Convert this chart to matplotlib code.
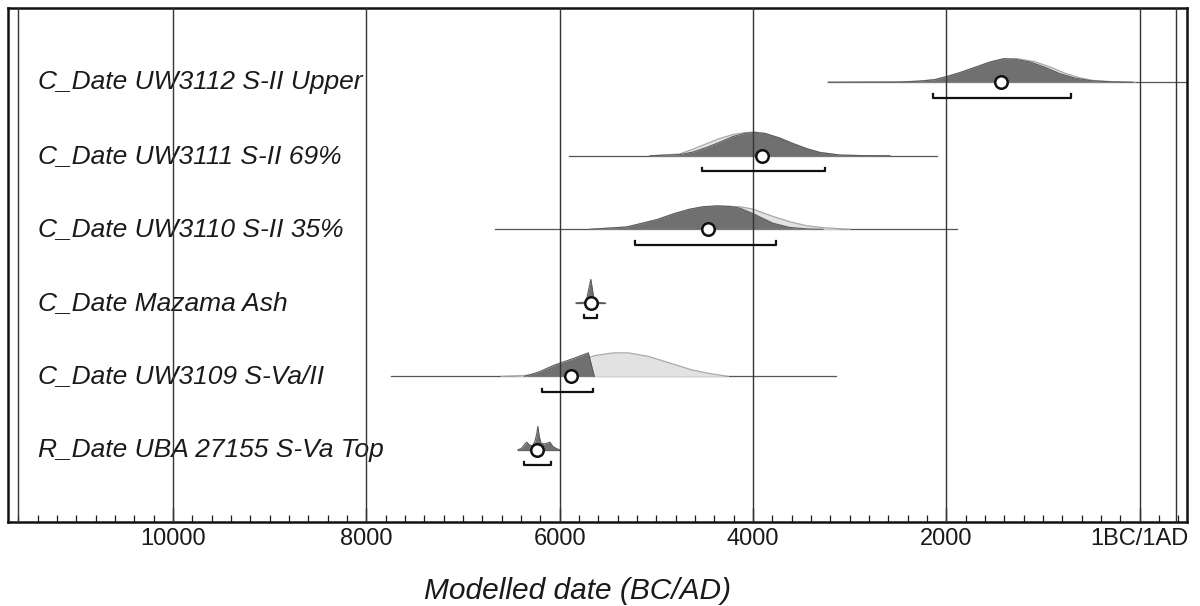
from matplotlib import pyplot as plt
from matplotlib.ticker import FixedLocator, MultipleLocator
import numpy as np

plt.rcParams['font.family'] = ['Liberation Sans', 'DejaVu Sans']

# Sample names, top to bottom
labels = [
    'C_Date UW3112 S-II Upper',
    'C_Date UW3111 S-II 69%',
    'C_Date UW3110 S-II 35%',
    'C_Date Mazama Ash',
    'C_Date UW3109 S-Va/II',
    'R_Date UBA 27155 S-Va Top',
]

# Years are cal BC (positive), probabilities scaled to peak = 1
# Unmodelled (likelihood) distributions
light_years = [
    [3220, 2480, 2270, 2120, 1990, 1860, 1700, 1550, 1400, 1260, 1090, 930, 770, 620, 470, 260, 40],
    [5066, 4756, 4621, 4476, 4342, 4207, 4083, 3980, 3875, 3720, 3586, 3441, 3306, 3099, 2892, 2581],
    [5688, 5304, 4994, 4808, 4652, 4518, 4373, 4238, 4135, 4000, 3793, 3617, 3441, 3275, 2996],
    None,
    [6603, 6365, 6220, 6055, 5879, 5703, 5641, 5496, 5434, 5289, 5082, 4844, 4637, 4461, 4254],
    None,
]
light_probs = [
    [0, 0.01, 0.05, 0.11, 0.24, 0.40, 0.62, 0.84, 0.99, 1.0, 0.88, 0.66, 0.38, 0.19, 0.07, 0.02, 0],
    [0, 0.08, 0.28, 0.52, 0.74, 0.90, 0.99, 1.0, 0.95, 0.75, 0.52, 0.30, 0.14, 0.03, 0.01, 0],
    [0, 0.10, 0.41, 0.66, 0.84, 0.94, 0.98, 0.98, 0.96, 0.86, 0.55, 0.32, 0.15, 0.07, 0],
    None,
    [0, 0.04, 0.10, 0.27, 0.50, 0.78, 0.88, 0.97, 1.0, 1.0, 0.85, 0.55, 0.28, 0.13, 0],
    None,
]

# Modelled (posterior) distributions
dark_years = [
    [3220, 2480, 2270, 2120, 1990, 1860, 1700, 1550, 1410, 1290, 1130, 980, 820, 670, 510, 300, 70],
    [5066, 4756, 4621, 4476, 4342, 4207, 4083, 3980, 3875, 3720, 3586, 3441, 3306, 3099, 2892, 2581],
    [5688, 5304, 4994, 4808, 4652, 4518, 4373, 4238, 4135, 4000, 3793, 3617, 3441, 3275],
    [5832, 5740, 5718, 5698, 5677, 5660, 5645, 5620, 5532],
    [6365, 6220, 6055, 5879, 5703, 5641],
    [6432, 6391, 6360, 6339, 6310, 6280, 6256, 6236, 6225, 6212, 6194, 6160, 6120, 6101, 6070, 6030, 5998],
]
dark_probs = [
    [0, 0.01, 0.05, 0.11, 0.25, 0.41, 0.64, 0.86, 1.0, 0.98, 0.86, 0.64, 0.36, 0.18, 0.07, 0.02, 0],
    [0, 0.05, 0.16, 0.36, 0.58, 0.82, 0.95, 1.0, 0.95, 0.75, 0.52, 0.30, 0.14, 0.03, 0.01, 0],
    [0, 0.10, 0.41, 0.68, 0.86, 0.96, 1.0, 0.97, 0.90, 0.67, 0.26, 0.08, 0.02, 0],
    [0, 0.03, 0.20, 0.60, 1.0, 0.55, 0.15, 0.02, 0],
    [0, 0.18, 0.48, 0.73, 1.0, 0],
    [0, 0.08, 0.25, 0.33, 0.20, 0.18, 0.35, 0.70, 1.0, 0.60, 0.30, 0.25, 0.30, 0.33, 0.15, 0.05, 0],
]

# Full extent of each distribution (BC)
range_start = [3220, 5905, 6671, 5832, 7740, 6432]
range_end = [-500, 2096, 1889, 5532, 3141, 5998]

# Mean and 95.4% range (BC)
means = [1433, 3907, 4466, 5677, 5879, 6236]
ci_start = [2137, 4528, 5222, 5750, 6183, 6371]
ci_end = [709, 3255, 3762, 5615, 5656, 6091]

tick_values = [10000, 8000, 6000, 4000, 2000, 0]
tick_labels = ['10000', '8000', '6000', '4000', '2000', '1BC/1AD']

PEAK = 0.32      # height of a peak in row units
CI_OFFSET = 0.21
CI_TICK = 0.045

fig = plt.figure(figsize=(12, 6.06), dpi=100)
ax = fig.add_axes([8 / 1200, 84 / 606, 1179 / 1200, 514 / 606])

for i in range(len(labels)):
    # thin line across the whole distribution
    ax.plot([range_start[i], range_end[i]], [i, i], color='#555555', lw=0.9, zorder=2)

    if light_years[i] is not None:
        ly = np.array(light_years[i])
        lp = np.array(light_probs[i])
        ax.fill_between(ly, i, i - lp * PEAK, color='#e2e2e2', lw=0, zorder=3)
        ax.plot(ly, i - lp * PEAK, color='#a8a8a8', lw=0.9, zorder=3)

    dy = np.array(dark_years[i])
    dp = np.array(dark_probs[i])
    ax.fill_between(dy, i, i - dp * PEAK, color='#707070', lw=0, zorder=4)
    ax.plot(dy, i - dp * PEAK, color='#5c5c5c', lw=0.8, zorder=4)

    # 95% range bracket
    yb = i + CI_OFFSET
    ax.plot([ci_start[i], ci_start[i], ci_end[i], ci_end[i]],
            [yb - CI_TICK, yb, yb, yb - CI_TICK], color='#111111', lw=1.6, zorder=6)

    ax.plot(means[i], i, 'o', ms=9, mfc='white', mec='#111111', mew=1.8, zorder=7)

    ax.text(30 / 1179, i, labels[i], transform=ax.get_yaxis_transform(),
            fontsize=19, style='italic', va='center', ha='left', color='#1a1a1a')

# vertical grid and range boundaries
for v in tick_values + [11600, -380]:
    ax.axvline(v, color='#333333', lw=1.0, zorder=5)

ax.set_xlim(11707, -491)
ax.set_ylim(5.98, -1.01)

ax.xaxis.set_major_locator(FixedLocator(tick_values))
ax.set_xticklabels(tick_labels)
ax.xaxis.set_minor_locator(MultipleLocator(200))
ax.tick_params(axis='x', which='major', direction='in', length=10, width=1.0,
               labelsize=17, pad=4, colors='#1a1a1a')
ax.tick_params(axis='x', which='minor', direction='in', length=5, width=0.9, colors='#1a1a1a')
ax.set_yticks([])
for s in ax.spines.values():
    s.set_linewidth(1.8)
    s.set_color('#111111')

ax.set_xlabel('Modelled date (BC/AD)', fontsize=21.5, style='italic', color='#1a1a1a')
ax.xaxis.set_label_coords((578 - 8) / 1179, -(591 - 522) / 514)
ax.xaxis.label.set_va('center')

fig.savefig('out.png', dpi=100)
